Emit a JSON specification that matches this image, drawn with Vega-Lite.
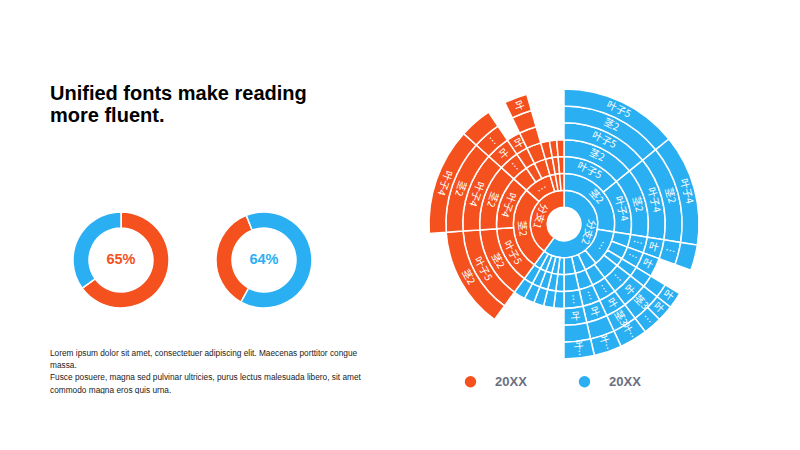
{
  "$schema": "https://vega.github.io/schema/vega-lite/v6.json",
  "background": "white",
  "padding": {"left": 50, "top": 83, "right": 0, "bottom": 0},
  "config": {"view": {"stroke": null}, "font": "Liberation Sans"},
  "datasets": {
    "sun": [
      {"s": "B", "lv": 1, "a0": 0, "a1": 216, "t": "分支2"},
      {"s": "B", "lv": 2, "a0": 0, "a1": 99, "t": "茎2"},
      {"s": "B", "lv": 2, "a0": 99, "a1": 141, "t": "…"},
      {"s": "B", "lv": 2, "a0": 141, "a1": 155, "t": ""},
      {"s": "B", "lv": 2, "a0": 155, "a1": 167, "t": ""},
      {"s": "B", "lv": 2, "a0": 167, "a1": 180, "t": ""},
      {"s": "B", "lv": 2, "a0": 180, "a1": 187, "t": ""},
      {"s": "B", "lv": 2, "a0": 187, "a1": 194, "t": ""},
      {"s": "B", "lv": 2, "a0": 194, "a1": 201, "t": ""},
      {"s": "B", "lv": 2, "a0": 201, "a1": 208, "t": ""},
      {"s": "B", "lv": 2, "a0": 208, "a1": 216, "t": ""},
      {"s": "B", "lv": 3, "a0": 0, "a1": 51, "t": "叶子5"},
      {"s": "B", "lv": 3, "a0": 51, "a1": 99, "t": "叶子4"},
      {"s": "B", "lv": 3, "a0": 99, "a1": 110, "t": ""},
      {"s": "B", "lv": 3, "a0": 110, "a1": 121, "t": ""},
      {"s": "B", "lv": 3, "a0": 121, "a1": 128, "t": ""},
      {"s": "B", "lv": 3, "a0": 128, "a1": 143, "t": ""},
      {"s": "B", "lv": 3, "a0": 143, "a1": 155, "t": ""},
      {"s": "B", "lv": 3, "a0": 155, "a1": 167, "t": ""},
      {"s": "B", "lv": 3, "a0": 167, "a1": 180, "t": ""},
      {"s": "B", "lv": 3, "a0": 180, "a1": 187, "t": ""},
      {"s": "B", "lv": 3, "a0": 187, "a1": 194, "t": ""},
      {"s": "B", "lv": 3, "a0": 194, "a1": 201, "t": ""},
      {"s": "B", "lv": 3, "a0": 201, "a1": 208, "t": ""},
      {"s": "B", "lv": 3, "a0": 208, "a1": 216, "t": ""},
      {"s": "B", "lv": 4, "a0": 0, "a1": 51, "t": "茎2"},
      {"s": "B", "lv": 4, "a0": 51, "a1": 99, "t": "茎2"},
      {"s": "B", "lv": 4, "a0": 99, "a1": 110, "t": "…"},
      {"s": "B", "lv": 4, "a0": 110, "a1": 121, "t": "…"},
      {"s": "B", "lv": 4, "a0": 121, "a1": 128, "t": ""},
      {"s": "B", "lv": 4, "a0": 128, "a1": 143, "t": "…"},
      {"s": "B", "lv": 4, "a0": 143, "a1": 155, "t": "…"},
      {"s": "B", "lv": 4, "a0": 155, "a1": 167, "t": "…"},
      {"s": "B", "lv": 4, "a0": 167, "a1": 180, "t": "…"},
      {"s": "B", "lv": 4, "a0": 180, "a1": 187, "t": ""},
      {"s": "B", "lv": 4, "a0": 187, "a1": 194, "t": ""},
      {"s": "B", "lv": 4, "a0": 194, "a1": 201, "t": ""},
      {"s": "B", "lv": 4, "a0": 201, "a1": 208, "t": ""},
      {"s": "B", "lv": 4, "a0": 208, "a1": 216, "t": ""},
      {"s": "B", "lv": 5, "a0": 0, "a1": 51, "t": "叶子5"},
      {"s": "B", "lv": 5, "a0": 51, "a1": 99, "t": "叶子4"},
      {"s": "B", "lv": 5, "a0": 99, "a1": 110, "t": "叶"},
      {"s": "B", "lv": 5, "a0": 110, "a1": 121, "t": "叶"},
      {"s": "B", "lv": 5, "a0": 121, "a1": 128, "t": ""},
      {"s": "B", "lv": 5, "a0": 128, "a1": 143, "t": "叶"},
      {"s": "B", "lv": 5, "a0": 143, "a1": 155, "t": "叶"},
      {"s": "B", "lv": 5, "a0": 155, "a1": 167, "t": "叶"},
      {"s": "B", "lv": 5, "a0": 167, "a1": 180, "t": "叶"},
      {"s": "B", "lv": 6, "a0": 0, "a1": 51, "t": "茎2"},
      {"s": "B", "lv": 6, "a0": 51, "a1": 99, "t": "茎2"},
      {"s": "B", "lv": 6, "a0": 99, "a1": 110, "t": "…"},
      {"s": "B", "lv": 6, "a0": 121, "a1": 128, "t": ""},
      {"s": "B", "lv": 6, "a0": 128, "a1": 143, "t": "茎3"},
      {"s": "B", "lv": 6, "a0": 143, "a1": 155, "t": "茎3"},
      {"s": "B", "lv": 6, "a0": 155, "a1": 167, "t": ""},
      {"s": "B", "lv": 6, "a0": 167, "a1": 180, "t": ""},
      {"s": "B", "lv": 7, "a0": 0, "a1": 51, "t": "叶子5"},
      {"s": "B", "lv": 7, "a0": 51, "a1": 99, "t": "叶子4"},
      {"s": "B", "lv": 7, "a0": 99, "a1": 110, "t": ""},
      {"s": "B", "lv": 7, "a0": 121, "a1": 128, "t": "叶"},
      {"s": "B", "lv": 7, "a0": 128, "a1": 135, "t": "叶"},
      {"s": "B", "lv": 7, "a0": 135, "a1": 143, "t": "…"},
      {"s": "B", "lv": 7, "a0": 143, "a1": 155, "t": "叶…"},
      {"s": "B", "lv": 7, "a0": 155, "a1": 167, "t": "叶…"},
      {"s": "B", "lv": 7, "a0": 167, "a1": 180, "t": "叶…"},
      {"s": "A", "lv": 1, "a0": 216, "a1": 360, "t": "分支1"},
      {"s": "A", "lv": 2, "a0": 216, "a1": 312, "t": "茎2"},
      {"s": "A", "lv": 2, "a0": 312, "a1": 344, "t": "…"},
      {"s": "A", "lv": 2, "a0": 344, "a1": 350, "t": ""},
      {"s": "A", "lv": 2, "a0": 350, "a1": 355, "t": ""},
      {"s": "A", "lv": 2, "a0": 355, "a1": 360, "t": ""},
      {"s": "A", "lv": 3, "a0": 216, "a1": 266, "t": "叶子5"},
      {"s": "A", "lv": 3, "a0": 266, "a1": 312, "t": "叶子4"},
      {"s": "A", "lv": 3, "a0": 312, "a1": 326, "t": ""},
      {"s": "A", "lv": 3, "a0": 326, "a1": 334, "t": ""},
      {"s": "A", "lv": 3, "a0": 334, "a1": 344, "t": ""},
      {"s": "A", "lv": 3, "a0": 344, "a1": 350, "t": ""},
      {"s": "A", "lv": 3, "a0": 350, "a1": 355, "t": ""},
      {"s": "A", "lv": 3, "a0": 355, "a1": 360, "t": ""},
      {"s": "A", "lv": 4, "a0": 216, "a1": 266, "t": "茎2"},
      {"s": "A", "lv": 4, "a0": 266, "a1": 312, "t": "茎2"},
      {"s": "A", "lv": 4, "a0": 312, "a1": 326, "t": "…"},
      {"s": "A", "lv": 4, "a0": 326, "a1": 334, "t": ""},
      {"s": "A", "lv": 4, "a0": 334, "a1": 344, "t": ""},
      {"s": "A", "lv": 4, "a0": 344, "a1": 350, "t": ""},
      {"s": "A", "lv": 4, "a0": 350, "a1": 355, "t": ""},
      {"s": "A", "lv": 4, "a0": 355, "a1": 360, "t": ""},
      {"s": "A", "lv": 5, "a0": 216, "a1": 266, "t": "叶子5"},
      {"s": "A", "lv": 5, "a0": 266, "a1": 312, "t": "叶子4"},
      {"s": "A", "lv": 5, "a0": 312, "a1": 326, "t": "叶"},
      {"s": "A", "lv": 5, "a0": 326, "a1": 334, "t": "叶"},
      {"s": "A", "lv": 5, "a0": 334, "a1": 344, "t": ""},
      {"s": "A", "lv": 6, "a0": 216, "a1": 266, "t": "茎2"},
      {"s": "A", "lv": 6, "a0": 266, "a1": 312, "t": "茎2"},
      {"s": "A", "lv": 6, "a0": 312, "a1": 326, "t": "…"},
      {"s": "A", "lv": 6, "a0": 334, "a1": 344, "t": ""},
      {"s": "A", "lv": 7, "a0": 266, "a1": 312, "t": "叶子4"},
      {"s": "A", "lv": 7, "a0": 312, "a1": 326, "t": ""},
      {"s": "A", "lv": 7, "a0": 334, "a1": 344, "t": "叶"}
    ],
    "donut1": [{"s": "A", "v": 65}, {"s": "B", "v": 35}],
    "donut2": [{"s": "A", "v": 36}, {"s": "B", "v": 64}],
    "headline": [
      {"line": 1, "text": "Unified fonts make reading"},
      {"line": 2, "text": "more fluent."}
    ]
  },
  "spacing": 62,
  "resolve": {"scale": {"theta": "independent", "radius": "independent", "color": "independent", "fill": "independent"}},
  "hconcat": [
    {
      "spacing": 82,
      "vconcat": [
        {
          "width": 285, "height": 44,
          "data": {"name": "headline"},
          "mark": {"type": "text", "align": "left", "baseline": "middle", "fontSize": 20, "fontWeight": "bold", "color": "#000000", "font": "Liberation Sans"},
          "encoding": {
            "x": {"datum": 0, "type": "quantitative", "scale": {"domain": [0, 1]}, "axis": null},
            "y": {"field": "line", "type": "ordinal", "axis": null},
            "text": {"field": "text"}
          }
        },
        {
          "title": {
            "text": [
              "Lorem ipsum dolor sit amet, consectetuer adipiscing elit. Maecenas porttitor congue",
              "massa.",
              "Fusce posuere, magna sed pulvinar ultricies, purus lectus malesuada libero, sit amet",
              "commodo magna eros quis urna."
            ],
            "orient": "bottom", "anchor": "start", "fontSize": 8.3, "fontWeight": "normal",
            "color": "#222222", "lineHeight": 12.2, "offset": 38, "font": "Liberation Sans"
          },
          "spacing": 1,
          "resolve": {"scale": {"theta": "independent", "fill": "independent"}},
          "hconcat": [
            {
              "width": 142, "height": 100,
              "layer": [
                {
                  "data": {"name": "donut1"},
                  "mark": {"type": "arc", "innerRadius": 32, "outerRadius": 48, "stroke": "#ffffff", "strokeWidth": 1.5},
                  "encoding": {
                    "theta": {"field": "v", "type": "quantitative", "stack": true, "scale": {"range": [0, 6.283185]}},
                    "order": {"field": "s"},
                    "fill": {"field": "s", "type": "nominal", "scale": {"domain": ["A", "B"], "range": ["#F4511E", "#2BAFF3"]}, "legend": null}
                  }
                },
                {
                  "data": {"values": [{"pct": "65%"}]},
                  "mark": {"type": "text", "fontSize": 14.5, "fontWeight": "bold", "color": "#F4511E", "font": "Liberation Sans"},
                  "encoding": {"text": {"field": "pct"}}
                }
              ]
            },
            {
              "width": 142, "height": 100,
              "layer": [
                {
                  "data": {"name": "donut2"},
                  "mark": {"type": "arc", "innerRadius": 32, "outerRadius": 48, "stroke": "#ffffff", "strokeWidth": 1.5},
                  "encoding": {
                    "theta": {"field": "v", "type": "quantitative", "stack": true, "scale": {"range": [3.643, 9.926]}},
                    "order": {"field": "s"},
                    "fill": {"field": "s", "type": "nominal", "scale": {"domain": ["A", "B"], "range": ["#F4511E", "#2BAFF3"]}, "legend": null}
                  }
                },
                {
                  "data": {"values": [{"pct": "64%"}]},
                  "mark": {"type": "text", "fontSize": 14.5, "fontWeight": "bold", "color": "#2BAFF3", "font": "Liberation Sans"},
                  "encoding": {"text": {"field": "pct"}}
                }
              ]
            }
          ]
        }
      ]
    },
    {
      "width": 282, "height": 282,
      "data": {"name": "sun"},
      "transform": [
        {"calculate": "datum.lv + 1", "as": "lv2"},
        {"calculate": "(datum.a0 + datum.a1) / 2", "as": "mid"},
        {"calculate": "datum.lv + 0.5", "as": "rm"},
        {"calculate": "(datum.a1 - datum.a0) < 20 ? (datum.mid < 180 ? datum.mid - 90 : datum.mid - 270) : (datum.mid < 180 ? datum.mid : datum.mid - 180)", "as": "ang"}
      ],
      "layer": [
        {
          "mark": {"type": "arc", "stroke": "#ffffff", "strokeWidth": 1.5},
          "encoding": {
            "theta": {"field": "a0", "type": "quantitative", "stack": null, "scale": {"domain": [0, 360], "range": [0, 6.283185]}},
            "theta2": {"field": "a1"},
            "radius": {"field": "lv", "type": "quantitative", "scale": {"type": "linear", "domain": [0, 8], "range": [0, 135], "zero": true}},
            "radius2": {"field": "lv2"},
            "color": {
              "field": "s", "type": "nominal",
              "scale": {"domain": ["A", "B"], "range": ["#F4511E", "#2BAFF3"]},
              "legend": {
                "orient": "none", "legendX": 41, "legendY": 292, "direction": "horizontal", "title": null,
                "symbolType": "circle", "symbolSize": 130, "symbolStrokeWidth": 0, "symbolOpacity": 1,
                "labelExpr": "'20XX'", "labelFont": "Liberation Sans", "labelFontSize": 13, "labelFontWeight": "bold",
                "labelColor": "#6B7080", "labelOffset": 18, "columnPadding": 51, "padding": 0,
                "encode": {"symbols": {"update": {"fill": {"signal": "datum.value === 'A' ? '#F47B22' : '#2EB4F7'"}, "stroke": {"value": "transparent"}}}}
              }
            }
          }
        },
        {
          "transform": [{"filter": "datum.t != ''"}],
          "mark": {"type": "text", "color": "#ffffff", "fontSize": 10, "font": "Noto Sans CJK SC", "align": "center", "baseline": "middle"},
          "encoding": {
            "theta": {"field": "mid", "type": "quantitative", "stack": null, "scale": {"domain": [0, 360], "range": [0, 6.283185]}},
            "radius": {"field": "rm", "type": "quantitative", "scale": {"type": "linear", "domain": [0, 8], "range": [0, 135], "zero": true}},
            "text": {"field": "t"},
            "angle": {"field": "ang", "type": "quantitative", "scale": null}
          }
        }
      ]
    }
  ]
}
